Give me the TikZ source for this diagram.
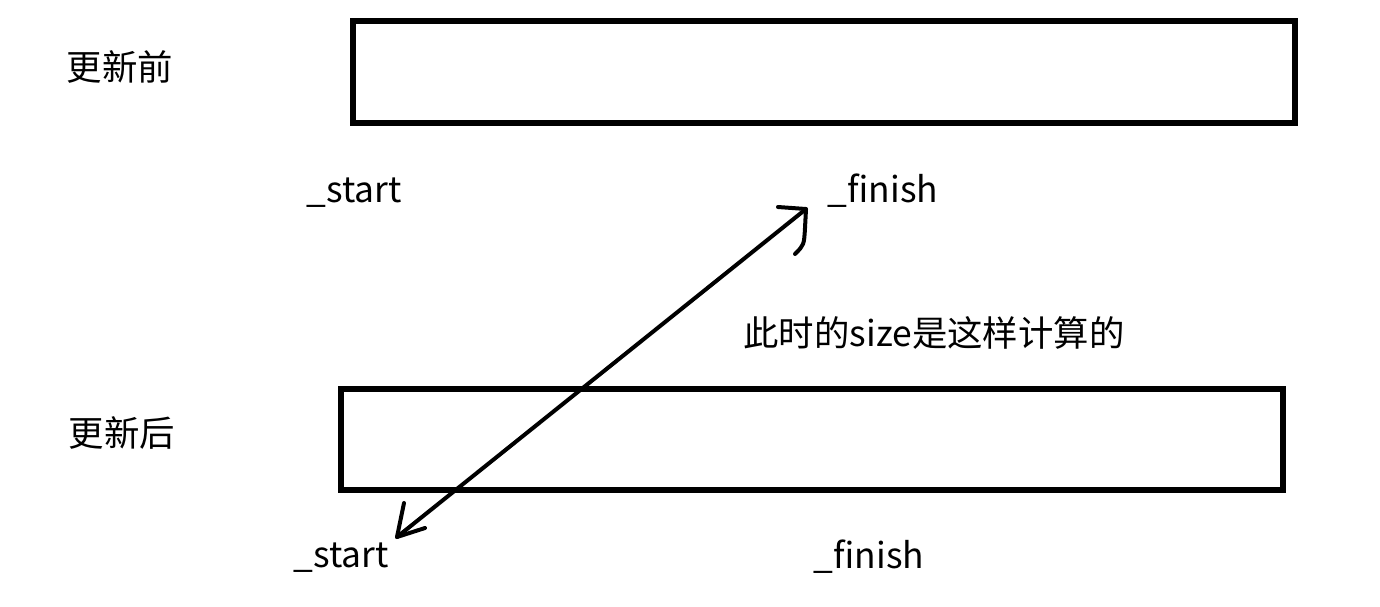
\documentclass[tikz,border=0pt]{standalone}
\usepackage{fontspec}
\setmainfont{Noto Sans CJK SC}
\begin{document}
\begin{tikzpicture}[x=0.5pt,y=-0.5pt,
  lbl/.style={font=\fontsize{17.7pt}{20pt}\selectfont, inner sep=0pt},
  bar/.style={draw=black, line width=3pt, inner sep=0pt},
  pen/.style={line width=2pt, line cap=round, line join=round}]
\useasboundingbox[fill=white] (0,0) rectangle (1380,606);
\node[bar, minimum width=471pt, minimum height=51pt] (before) at (824,72) {};
\node[bar, minimum width=471pt, minimum height=50.5pt] (after) at (812,439) {};
\node[lbl] (lb) at (120,67) {更新前};
\node[lbl] (la) at (122,433) {更新后};
\node[lbl] (s1) at (354,193) {\_start};
\node[lbl] (f1) at (883,191) {\_finish};
\node[lbl] (s2) at (341,558) {\_start};
\node[lbl] (f2) at (869,557) {\_finish};
\node[lbl] (note) at (934,333) {此时的size是这样计算的};
\coordinate (tipA) at (397,537);
\coordinate (tipB) at (806,209);
\draw[pen] (tipA) -- (tipB);
\draw[pen] (778,207) -- (tipB) -- (805,228) .. controls (804,245) .. (795,254);
\draw[pen] (404,503) -- (tipA) -- (425,528);
\end{tikzpicture}
\end{document}
